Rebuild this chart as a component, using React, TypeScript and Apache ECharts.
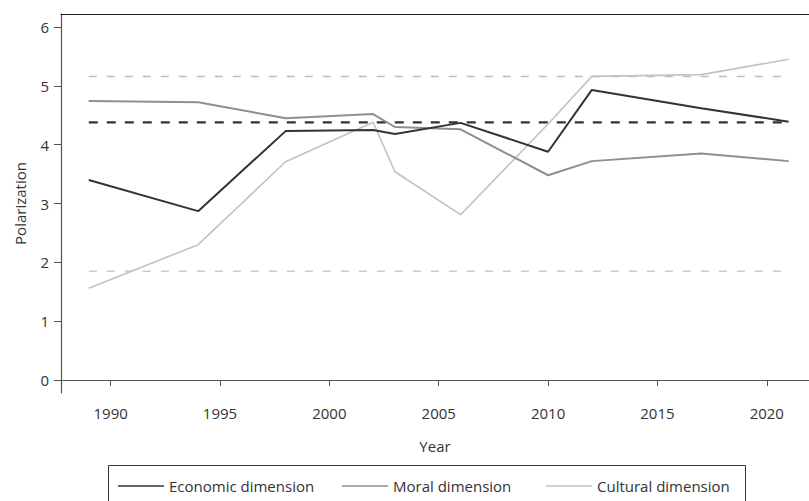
import React, { useEffect, useRef } from "react";
import * as echarts from "echarts";

const years = [1989, 1994, 1998, 2002, 2003, 2006, 2010, 2012, 2017, 2021];
const economic = [3.40, 2.87, 4.23, 4.25, 4.18, 4.37, 3.88, 4.93, 4.62, 4.39];
const moral = [4.74, 4.72, 4.45, 4.52, 4.30, 4.26, 3.48, 3.72, 3.85, 3.72];
const cultural = [1.56, 2.30, 3.71, 4.38, 3.54, 2.81, 4.35, 5.16, 5.19, 5.45];
const refYears = [1989, 2021];
const economicRef = 4.38;
const upperRef = 5.16;
const lowerRef = 1.85;
const yTicks = [0, 1, 2, 3, 4, 5, 6];
const xTicks = [1990, 1995, 2000, 2005, 2010, 2015, 2020];
const seriesNames = ["Economic dimension", "Moral dimension", "Cultural dimension"];

const FONT = "'Open Sans', sans-serif";
const X_MIN = 1987.73;
const X_MAX = 2021.93;
const Y_MIN = -0.22;
const Y_MAX = 6.22;
const legendLefts = [118, 342, 546];

const pair = (xs: number[], ys: number[]) => xs.map((x, i) => [x, ys[i]]);
const flat = (v: number) => refYears.map((x) => [x, v]);

export default function App() {
  const ref = useRef<HTMLDivElement>(null);
  useEffect(() => {
    if (!ref.current) return;
    const chart = echarts.init(ref.current, undefined, { renderer: "svg" });
    const line = (name: string, data: number[][], color: string, width: number, type: any, z: number) => ({
      name,
      type: "line",
      data,
      symbol: "none",
      showSymbol: false,
      z,
      itemStyle: { color },
      lineStyle: { color, width, type },
      emphasis: { disabled: true },
    });
    const legends = seriesNames.map((n, i) => ({
      data: [n],
      left: legendLefts[i],
      top: 478,
      orient: "horizontal",
      icon: "rect",
      itemWidth: 46,
      itemHeight: 1.5,
      itemGap: 0,
      padding: 0,
      textStyle: { fontFamily: FONT, fontSize: 15, color: "#333", lineHeight: 16 },
      selectedMode: false,
    }));
    chart.setOption({
      animation: false,
      backgroundColor: "#ffffff",
      grid: { left: 61, top: 14, right: 0, bottom: 108, containLabel: false },
      xAxis: [
        {
          type: "value",
          min: X_MIN,
          max: X_MAX,
          name: "Year",
          nameLocation: "middle",
          nameGap: 45,
          nameTextStyle: { fontFamily: FONT, fontSize: 15, color: "#333" },
          axisLine: { show: true, lineStyle: { color: "#555", width: 1.2 } },
          axisTick: { show: true, length: 6, customValues: xTicks, lineStyle: { color: "#555" } },
          axisLabel: { customValues: xTicks, fontFamily: FONT, fontSize: 15, color: "#333", margin: 12, formatter: (v: number) => String(v) },
          splitLine: { show: false },
        },
        {
          type: "value",
          position: "top",
          min: X_MIN,
          max: X_MAX,
          axisLine: { show: true, onZero: false, lineStyle: { color: "#222", width: 1.2 } },
          axisTick: { show: false },
          axisLabel: { show: false },
          splitLine: { show: false },
        },
      ],
      yAxis: {
        type: "value",
        min: Y_MIN,
        max: Y_MAX,
        name: "Polarization",
        nameLocation: "middle",
        nameGap: 34,
        nameRotate: 90,
        nameTextStyle: { fontFamily: FONT, fontSize: 15, color: "#333" },
        axisLine: { show: true, onZero: false, lineStyle: { color: "#555", width: 1.2 } },
        axisTick: { show: true, length: 7, customValues: yTicks, lineStyle: { color: "#555" } },
        axisLabel: { customValues: yTicks, fontFamily: FONT, fontSize: 15, color: "#333", margin: 12 },
        splitLine: { show: false },
      },
      legend: legends,
      graphic: [
        {
          type: "rect",
          silent: true,
          shape: { x: 108.5, y: 465.5, width: 637, height: 60 },
          style: { fill: "none", stroke: "#333", lineWidth: 1 },
        },
      ],
      series: [
        line("upperRef", flat(upperRef), "#bdbdbd", 1.5, [8, 10], 1),
        line("lowerRef", flat(lowerRef), "#c6ccc6", 1.5, [8, 10], 1),
        line("economicRef", flat(economicRef), "#333333", 2.2, [9, 9], 2),
        line(seriesNames[2], pair(years, cultural), "#c2c2c2", 1.6, "solid", 3),
        line(seriesNames[1], pair(years, moral), "#8e8e8e", 2, "solid", 4),
        line(seriesNames[0], pair(years, economic), "#333333", 2, "solid", 5),
      ],
    });
    return () => chart.dispose();
  }, []);
  return (
    <div
      ref={ref}
      style={{ position: "absolute", left: 0, top: 0, width: 809, height: 501, background: "#fff" }}
    />
  );
}
